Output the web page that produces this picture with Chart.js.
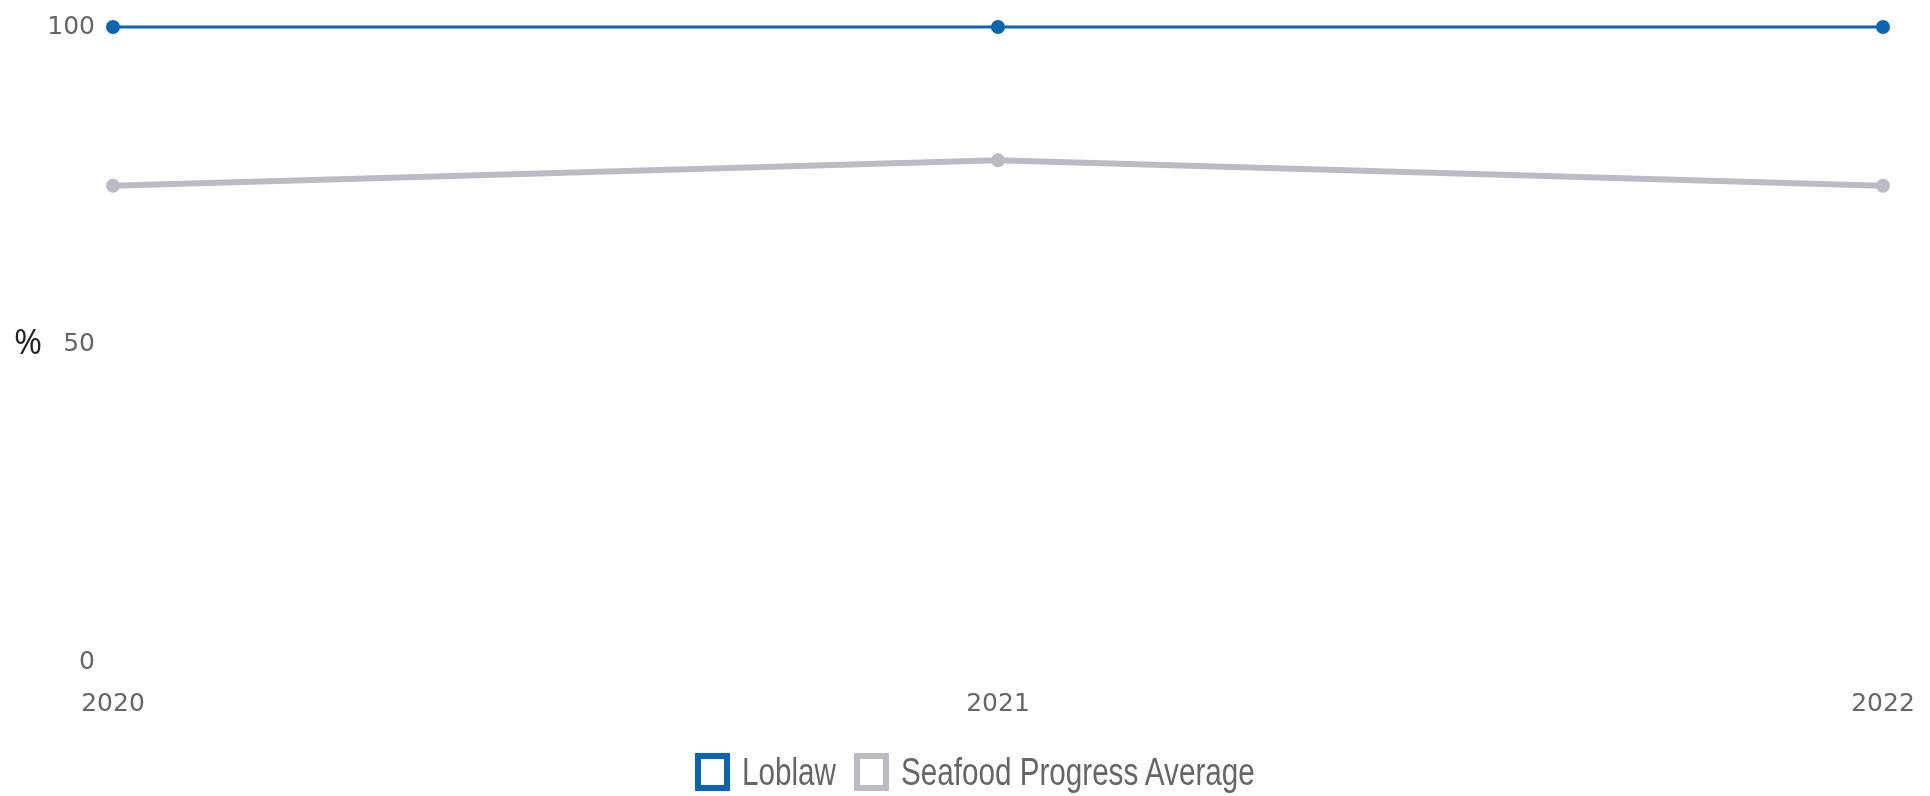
<!DOCTYPE html>
<html>
<head>
<meta charset="utf-8">
<script src="https://cdn.jsdelivr.net/npm/chart.js@4"></script>
<style>
  html, body { margin: 0; padding: 0; background: #fff; }
  #wrap { width: 1930px; height: 796px; position: relative; }
  #legend { position: absolute; left: 695px; top: 753px; height: 38px; display: flex; align-items: center; }
  .item { display: flex; align-items: center; margin-right: 18px; flex: none; }
  .box { flex: none; display: inline-block; width: 35px; height: 38px; box-sizing: border-box; border: 6px solid; background: #fff; }
  .txt { font-family: "Liberation Sans", Arial, sans-serif; font-size: 38px; color: #666; margin-left: 12px;
         display: inline-block; transform: scaleX(0.78); transform-origin: left center; white-space: nowrap; }
</style>
</head>
<body>
<div id="wrap">
  <canvas id="chart" width="1930" height="796"></canvas>
  <div id="legend"></div>
</div>
<script>
const years = ['2020', '2021', '2022'];
const loblaw = [100, 100, 100];
const seafoodAvg = [75, 79, 75];
const yTicks = [0, 50, 100];

const blue = '#0a66b0';
const grey = '#bcbbc3';

// draws the unrotated "%" axis title
const percentTitle = {
    id: 'percentTitle',
    afterDraw(chart) {
        const ctx = chart.ctx;
        const y = chart.scales.y.getPixelForValue(50);
        ctx.save();
        ctx.font = '34px "Open Sans"';
        ctx.fillStyle = '#222';
        ctx.textAlign = 'center';
        ctx.textBaseline = 'middle';
        ctx.fillText('%', 28, y);
        ctx.restore();
    }
};

const ctx = document.getElementById('chart').getContext('2d');
const chart = new Chart(ctx, {
    type: 'line',
    data: {
        labels: years,
        datasets: [{
            label: 'Loblaw',
            data: loblaw,
            borderColor: blue,
            backgroundColor: blue,
            borderWidth: 3,
            pointRadius: 7,
            pointBorderWidth: 0,
            tension: 0,
            clip: false
        }, {
            label: 'Seafood Progress Average',
            data: seafoodAvg,
            borderColor: grey,
            backgroundColor: grey,
            borderWidth: 6,
            pointRadius: 7,
            pointBorderWidth: 0,
            tension: 0,
            clip: false
        }]
    },
    options: {
        responsive: false,
        animation: false,
        layout: {
            padding: { left: 0, right: 47, top: 27, bottom: 54 }
        },
        scales: {
            x: {
                grid: { display: false, drawTicks: false },
                border: { display: false },
                ticks: {
                    padding: 27,
                    color: '#666',
                    font: { family: 'DejaVu Sans', size: 25 },
                    maxRotation: 0
                },
                afterFit(scale) {
                    scale.height = 80;
                    // tick padding would otherwise push the plot edges in
                    scale.paddingLeft = 0;
                    scale.paddingRight = 0;
                }
            },
            y: {
                min: 0,
                max: 100,
                grid: { display: false, drawTicks: false },
                border: { display: false },
                afterBuildTicks(scale) {
                    scale.ticks = yTicks.map(v => ({ value: v }));
                },
                ticks: {
                    padding: 18,
                    color: '#666',
                    font: { family: 'DejaVu Sans', size: 25 }
                },
                afterFit(scale) {
                    scale.width = 113;
                    scale.paddingTop = 0;
                    scale.paddingBottom = 0;
                }
            }
        },
        plugins: {
            legend: { display: false },
            tooltip: { enabled: false }
        }
    },
    plugins: [percentTitle]
});

// html legend built from the chart's datasets
const legendEl = document.getElementById('legend');
chart.data.datasets.forEach(ds => {
    const item = document.createElement('div');
    item.className = 'item';
    const box = document.createElement('span');
    box.className = 'box';
    box.style.borderColor = ds.borderColor;
    const txt = document.createElement('span');
    txt.className = 'txt';
    txt.textContent = ds.label;
    item.appendChild(box);
    item.appendChild(txt);
    legendEl.appendChild(item);
    // scaled text keeps its layout width, so shrink the item to the visual width
    item.style.width = (35 + 12 + txt.getBoundingClientRect().width) + 'px';
});
</script>
</body>
</html>
